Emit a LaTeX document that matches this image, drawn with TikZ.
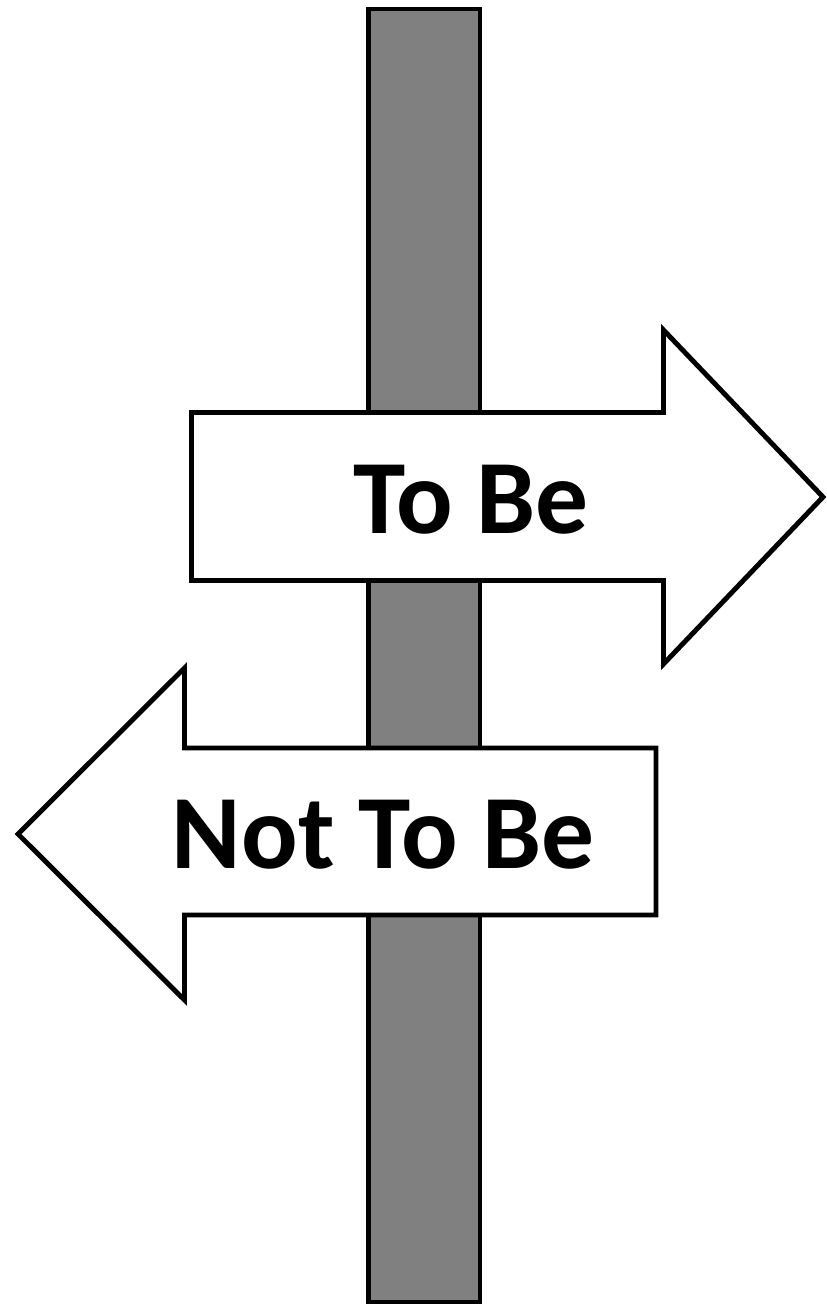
\documentclass[tikz,border=0pt]{standalone}
\usepackage{fontspec}
\setmainfont{Carlito}
\definecolor{PoleGray}{HTML}{808080}

\begin{document}
\begin{tikzpicture}[x=0.02cm, y=-0.02cm, line width=2.8pt, line join=miter]
  \tikzset{pole/.style={draw=black, fill=PoleGray},
    sign/.style={draw=black, fill=white},
    signtext/.style={font=\fontsize{60}{60}\selectfont\bfseries, text=black, inner sep=0pt, anchor=base}}
  \useasboundingbox (0,0) rectangle (827,1306);
  % the post
  \draw[pole] (368.5,9) rectangle (480,1302);
  % right sign
  \draw[sign] (191.5,412.5) -- (663.5,412.5) -- (663.5,330) -- (823,497)
    -- (663.5,664) -- (663.5,580.5) -- (191.5,580.5) -- cycle;
  \node[signtext] (tobe) at (471,533) {To Be};
  % left sign
  \draw[sign] (656,748) -- (184.5,748) -- (184.5,668) -- (18,834)
    -- (184.5,1000) -- (184.5,915) -- (656,915) -- cycle;
  \node[signtext] (nottobe) at (383,868) {Not To Be};
\end{tikzpicture}
\end{document}
